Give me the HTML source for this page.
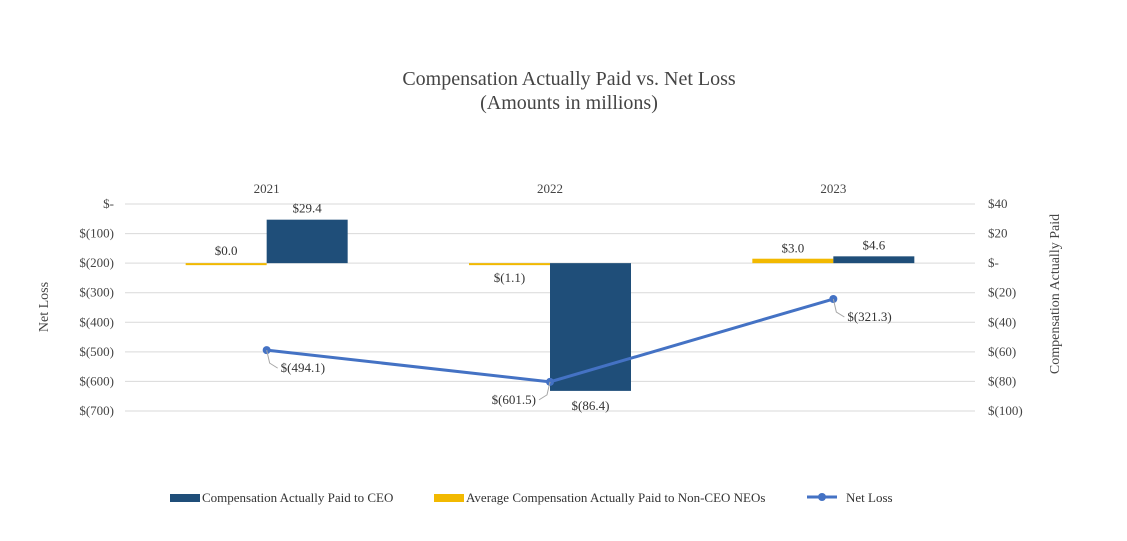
<!DOCTYPE html>
<html><head><meta charset="utf-8"><style>
body{margin:0;background:#fff;}
svg{display:block;font-family:"Liberation Serif",serif;}
</style></head><body>
<svg id="chart" width="1127" height="541"></svg>
<script>
const categories=["2021","2022","2023"];
const ceoValues=[29.4,-86.4,4.6];
const neoValues=[0.0,-1.1,3.0];
const netLoss=[-494.1,-601.5,-321.3];
const leftTicks=[0,-100,-200,-300,-400,-500,-600,-700];
const rightTicks=[40,20,0,-20,-40,-60,-80,-100];
const ceoLabels=["$29.4","$(86.4)","$4.6"];
const neoLabels=["$0.0","$(1.1)","$3.0"];
const lossLabels=["$(494.1)","$(601.5)","$(321.3)"];

const svg=document.getElementById('chart');
const NS='http://www.w3.org/2000/svg';
const X0=125,X1=975,Y0=204,Y1=411;
const yL=v=>Y0+(0-v)/700*(Y1-Y0);
const yR=v=>Y0+(40-v)/140*(Y1-Y0);
const band=(X1-X0)/categories.length;
const xc=i=>X0+band*(i+0.5);
const BW=81;
function el(tag,attrs,text){const e=document.createElementNS(NS,tag);for(const k in attrs)e.setAttribute(k,attrs[k]);if(text!==undefined)e.textContent=text;svg.appendChild(e);return e;}
function fmtL(v){return v===0?'$-':'$('+Math.abs(v)+')';}
function fmtR(v){return v===0?'$-':(v>0?'$'+v:'$('+Math.abs(v)+')');}

let t=el('text',{x:569,y:85,'text-anchor':'middle','font-size':20,fill:'#444'},'Compensation Actually Paid vs. Net Loss');

t=el('text',{x:569,y:109,'text-anchor':'middle','font-size':20,fill:'#444'},'(Amounts in millions)');


leftTicks.forEach(v=>{
  const y=yL(v);
  const g=el('line',{x1:X0,x2:X1,y1:y,y2:y,stroke:'#d9d9d9','stroke-width':1});
  
  const l=el('text',{x:114,y:y+4,'text-anchor':'end','font-size':13,fill:'#444'},fmtL(v));
  
});
rightTicks.forEach(v=>{
  const l=el('text',{x:988,y:yR(v)+4,'font-size':13,fill:'#444'},fmtR(v));
  
});
categories.forEach((c,i)=>{
  const l=el('text',{x:xc(i),y:193,'text-anchor':'middle','font-size':13,fill:'#444'},c);
  
});
t=el('text',{x:0,y:0,'text-anchor':'middle','font-size':14,fill:'#444',transform:'translate(48,307) rotate(-90)'},'Net Loss');

t=el('text',{x:0,y:0,'text-anchor':'middle','font-size':14,fill:'#444',transform:'translate(1059,294) rotate(-90)'},'Compensation Actually Paid');


const z=yR(0);
categories.forEach((c,i)=>{
  const cx=xc(i);
  const ny=yR(neoValues[i]);
  const nb=el('rect',{x:cx-BW,y:Math.min(ny,z),width:BW,height:Math.max(Math.abs(ny-z),2),fill:'#f2b900'});
  
  const cy=yR(ceoValues[i]);
  const cb=el('rect',{x:cx,y:Math.min(cy,z),width:BW,height:Math.abs(cy-z),fill:'#1f4e79'});
  
  const nly=neoValues[i]>0?ny-6:(neoValues[i]<0?z+19:z-8);
  let l=el('text',{x:cx-BW/2,y:nly,'text-anchor':'middle','font-size':13,fill:'#333'},neoLabels[i]);
  
  const cly=ceoValues[i]>=0?cy-7:cy+19;
  l=el('text',{x:cx+BW/2,y:cly,'text-anchor':'middle','font-size':13,fill:'#333'},ceoLabels[i]);
  
});

const pts=netLoss.map((v,i)=>[xc(i),yL(v)]);
const line=el('polyline',{points:pts.map(p=>p.join(',')).join(' '),fill:'none',stroke:'#4472c4','stroke-width':3});

const offs=[[1,1],[-1,1],[1,1]];
pts.forEach((p,i)=>{
  const d=el('circle',{cx:p[0],cy:p[1],r:4,fill:'#4472c4'});
  
  const dx=offs[i][0];
  const ld=el('polyline',{points:`${p[0]},${p[1]} ${p[0]+dx*3},${p[1]+13} ${p[0]+dx*11},${p[1]+18}`,fill:'none',stroke:'#a6a6a6','stroke-width':1});
  
  const l=el('text',{x:p[0]+dx*14,y:p[1]+22,'text-anchor':dx>0?'start':'end','font-size':13,fill:'#333'},lossLabels[i]);
  
});

// legend
let r=el('rect',{x:170,y:494,width:30,height:8,fill:'#1f4e79'});

t=el('text',{x:202,y:502,'font-size':13,fill:'#333'},'Compensation Actually Paid to CEO');

r=el('rect',{x:434,y:494,width:30,height:8,fill:'#f2b900'});

t=el('text',{x:466,y:502,'font-size':13,fill:'#333'},'Average Compensation Actually Paid to Non-CEO NEOs');

r=el('line',{x1:807,x2:837,y1:497,y2:497,stroke:'#4472c4','stroke-width':3});

r=el('circle',{cx:822,cy:497,r:4,fill:'#4472c4'});

t=el('text',{x:846,y:502,'font-size':13,fill:'#333'},'Net Loss');

</script>
</body></html>
